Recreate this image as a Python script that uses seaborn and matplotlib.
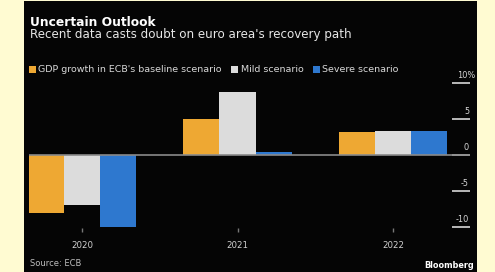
import numpy as np
import pandas as pd
import seaborn as sns
import matplotlib.pyplot as plt
from matplotlib.patches import Rectangle
from matplotlib.transforms import ScaledTranslation

# Chart data (ECB GDP growth scenarios, %)
years = ["2020", "2021", "2022"]
baseline = [-8.0, 5.0, 3.2]
mild = [-7.0, 8.8, 3.4]
severe = [-10.0, 0.5, 3.3]
scenarios = ["GDP growth in ECB's baseline scenario", "Mild scenario", "Severe scenario"]
colors = ["#EEA833", "#DCDCDC", "#2E78CF"]
yticks = [-10, -5, 0, 5, 10]
ytick_labels = ["-10", "-5", "0", "5", "10%"]

df = pd.DataFrame({
    "year": years * 3,
    "scenario": np.repeat(scenarios, 3),
    "growth": baseline + mild + severe,
})

plt.rcParams["font.family"] = ["DejaVu Sans"]

W, H = 495, 272
fig = plt.figure(figsize=(W / 100, H / 100), dpi=100)
fig.patch.set_facecolor("#FFFBD2")
# black card
fig.add_artist(Rectangle((24 / W, 0), (477 - 24) / W, 271 / H,
                         transform=fig.transFigure, facecolor="#050505",
                         edgecolor="none", zorder=0))

ax = fig.add_axes([29 / W, 1 - 228 / H, 441 / W, 145 / H])
ax.set_facecolor("none")

sns.barplot(data=df, x="year", y="growth", hue="scenario", palette=colors,
            width=0.7, saturation=1, ax=ax, zorder=2)

handles, labels = ax.get_legend_handles_labels()
ax.legend_.remove()

ax.axhline(0, color="#8a8a8a", lw=1.2, zorder=3)

ax.set_xlim(-0.341, 2.495)
ax.set_ylim(-10.15, 10.05)
ax.set_xlabel("")
ax.set_ylabel("")
for s in ax.spines.values():
    s.set_visible(False)

ax.tick_params(axis="x", length=3, width=1, color="#777777",
               labelcolor="#d0d0d0", labelsize=6.2, pad=6)

ax.yaxis.tick_right()
ax.set_yticks(yticks, labels=ytick_labels)
ax.tick_params(axis="y", direction="in", length=13, width=1.2,
               color="#d8d8d8", labelcolor="#d8d8d8", labelsize=5.9, pad=-0.7)
for lab in ax.get_yticklabels():
    lab.set_ha("right")
    lab.set_va("bottom")
    dx = 0.06 if lab.get_text().endswith("%") else 0.0
    lab.set_transform(lab.get_transform() + ScaledTranslation(dx, 0.03, fig.dpi_scale_trans))

fig.legend(handles, labels, loc="center left", bbox_to_anchor=(29 / W, 1 - 70 / H),
           ncol=3, frameon=False, fontsize=6.8, labelcolor="#d8d8d8",
           handlelength=0.7, handleheight=0.7, handletextpad=0.3,
           columnspacing=1.0, borderaxespad=0, borderpad=0)

fig.text(30 / W, 1 - 26 / H, "Uncertain Outlook", fontsize=8.8,
         fontweight="bold", color="white", va="baseline")
fig.text(30 / W, 1 - 38 / H, "Recent data casts doubt on euro area's recovery path",
         fontsize=8.6, color="#e6e6e6", va="baseline")
fig.text(30 / W, 1 - 263 / H, "Source: ECB", fontsize=6, color="#bdbdbd", va="center")
fig.text(474 / W, 1 - 265 / H, "Bloomberg", fontsize=5.9, fontweight="bold",
         color="white", va="center", ha="right")

fig.savefig("out.png", dpi=100, facecolor=fig.get_facecolor())
